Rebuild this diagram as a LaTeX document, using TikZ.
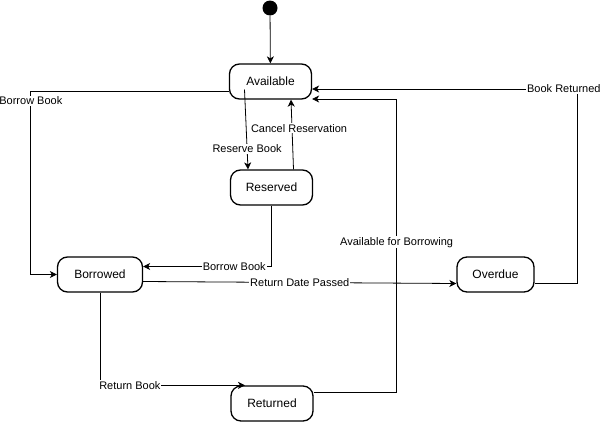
\documentclass[tikz,border=0pt]{standalone}
\usepackage{fontspec}
\setmainfont{Liberation Sans}
\usetikzlibrary{arrows.meta}

\begin{document}
\begin{tikzpicture}[x=1pt, y=-1pt,
state/.style={draw, line width=1.3pt, rounded corners=10pt, minimum width=82pt, minimum height=35pt, font=\fontsize{12}{14}\selectfont},
edge/.style={draw, line width=0.8pt, -{Stealth[length=7pt,width=7pt,inset=2pt]}},
lbl/.style={fill=white, inner sep=1pt, font=\fontsize{11}{13}\selectfont}]
\useasboundingbox (0,0) rectangle (602,423);
\node[circle, fill=black, minimum size=15pt, inner sep=0pt] (start) at (270,8) {};
\node[state] (avail) at (270.5,81.5) {Available};
\node[state] (reserved) at (271.5,187.5) {Reserved};
\node[state, minimum width=85pt] (borrowed) at (100,274.5) {Borrowed};
\node[state, minimum width=77pt] (overdue) at (495.5,274.5) {Overdue};
\node[state] (returned) at (272,403.5) {Returned};
\draw[edge] (start) -- (avail);
\draw[edge] ([yshift=-9.5pt]avail.west) -| node[lbl, pos=0.527]{Borrow Book} ([xshift=-26pt]borrowed.west) -- (borrowed.west);
\draw[edge] ([xshift=-26pt,yshift=-8pt]avail.center) -- node[lbl, pos=0.74]{Reserve Book} ([xshift=-23.5pt]reserved.north);
\draw[edge] ([xshift=22pt]reserved.north) -- node[lbl, pos=0.59, xshift=7pt]{Cancel Reservation} ([xshift=20.5pt]avail.south);
\draw[edge] (reserved.south) |- node[lbl, pos=0.645]{Borrow Book} ([yshift=8pt]borrowed.east);
\draw[edge] ([yshift=-7pt]borrowed.east) -- node[lbl]{Return Date Passed} ([yshift=-9pt]overdue.west);
\draw[edge] (borrowed.south) |- node[lbl, pos=0.603]{Return Book} ([xshift=-27pt]returned.north);
\draw[edge] ([yshift=11pt]returned.east) -- ++(83,0) |- node[lbl, pos=0.256]{Available for Borrowing} ([yshift=-17.5pt]avail.east);
\draw[edge] ([yshift=-9pt]overdue.east) -- ++(43,0) |- node[lbl, pos=0.526]{Book Returned} ([yshift=-7.5pt]avail.east);
\end{tikzpicture}
\end{document}
